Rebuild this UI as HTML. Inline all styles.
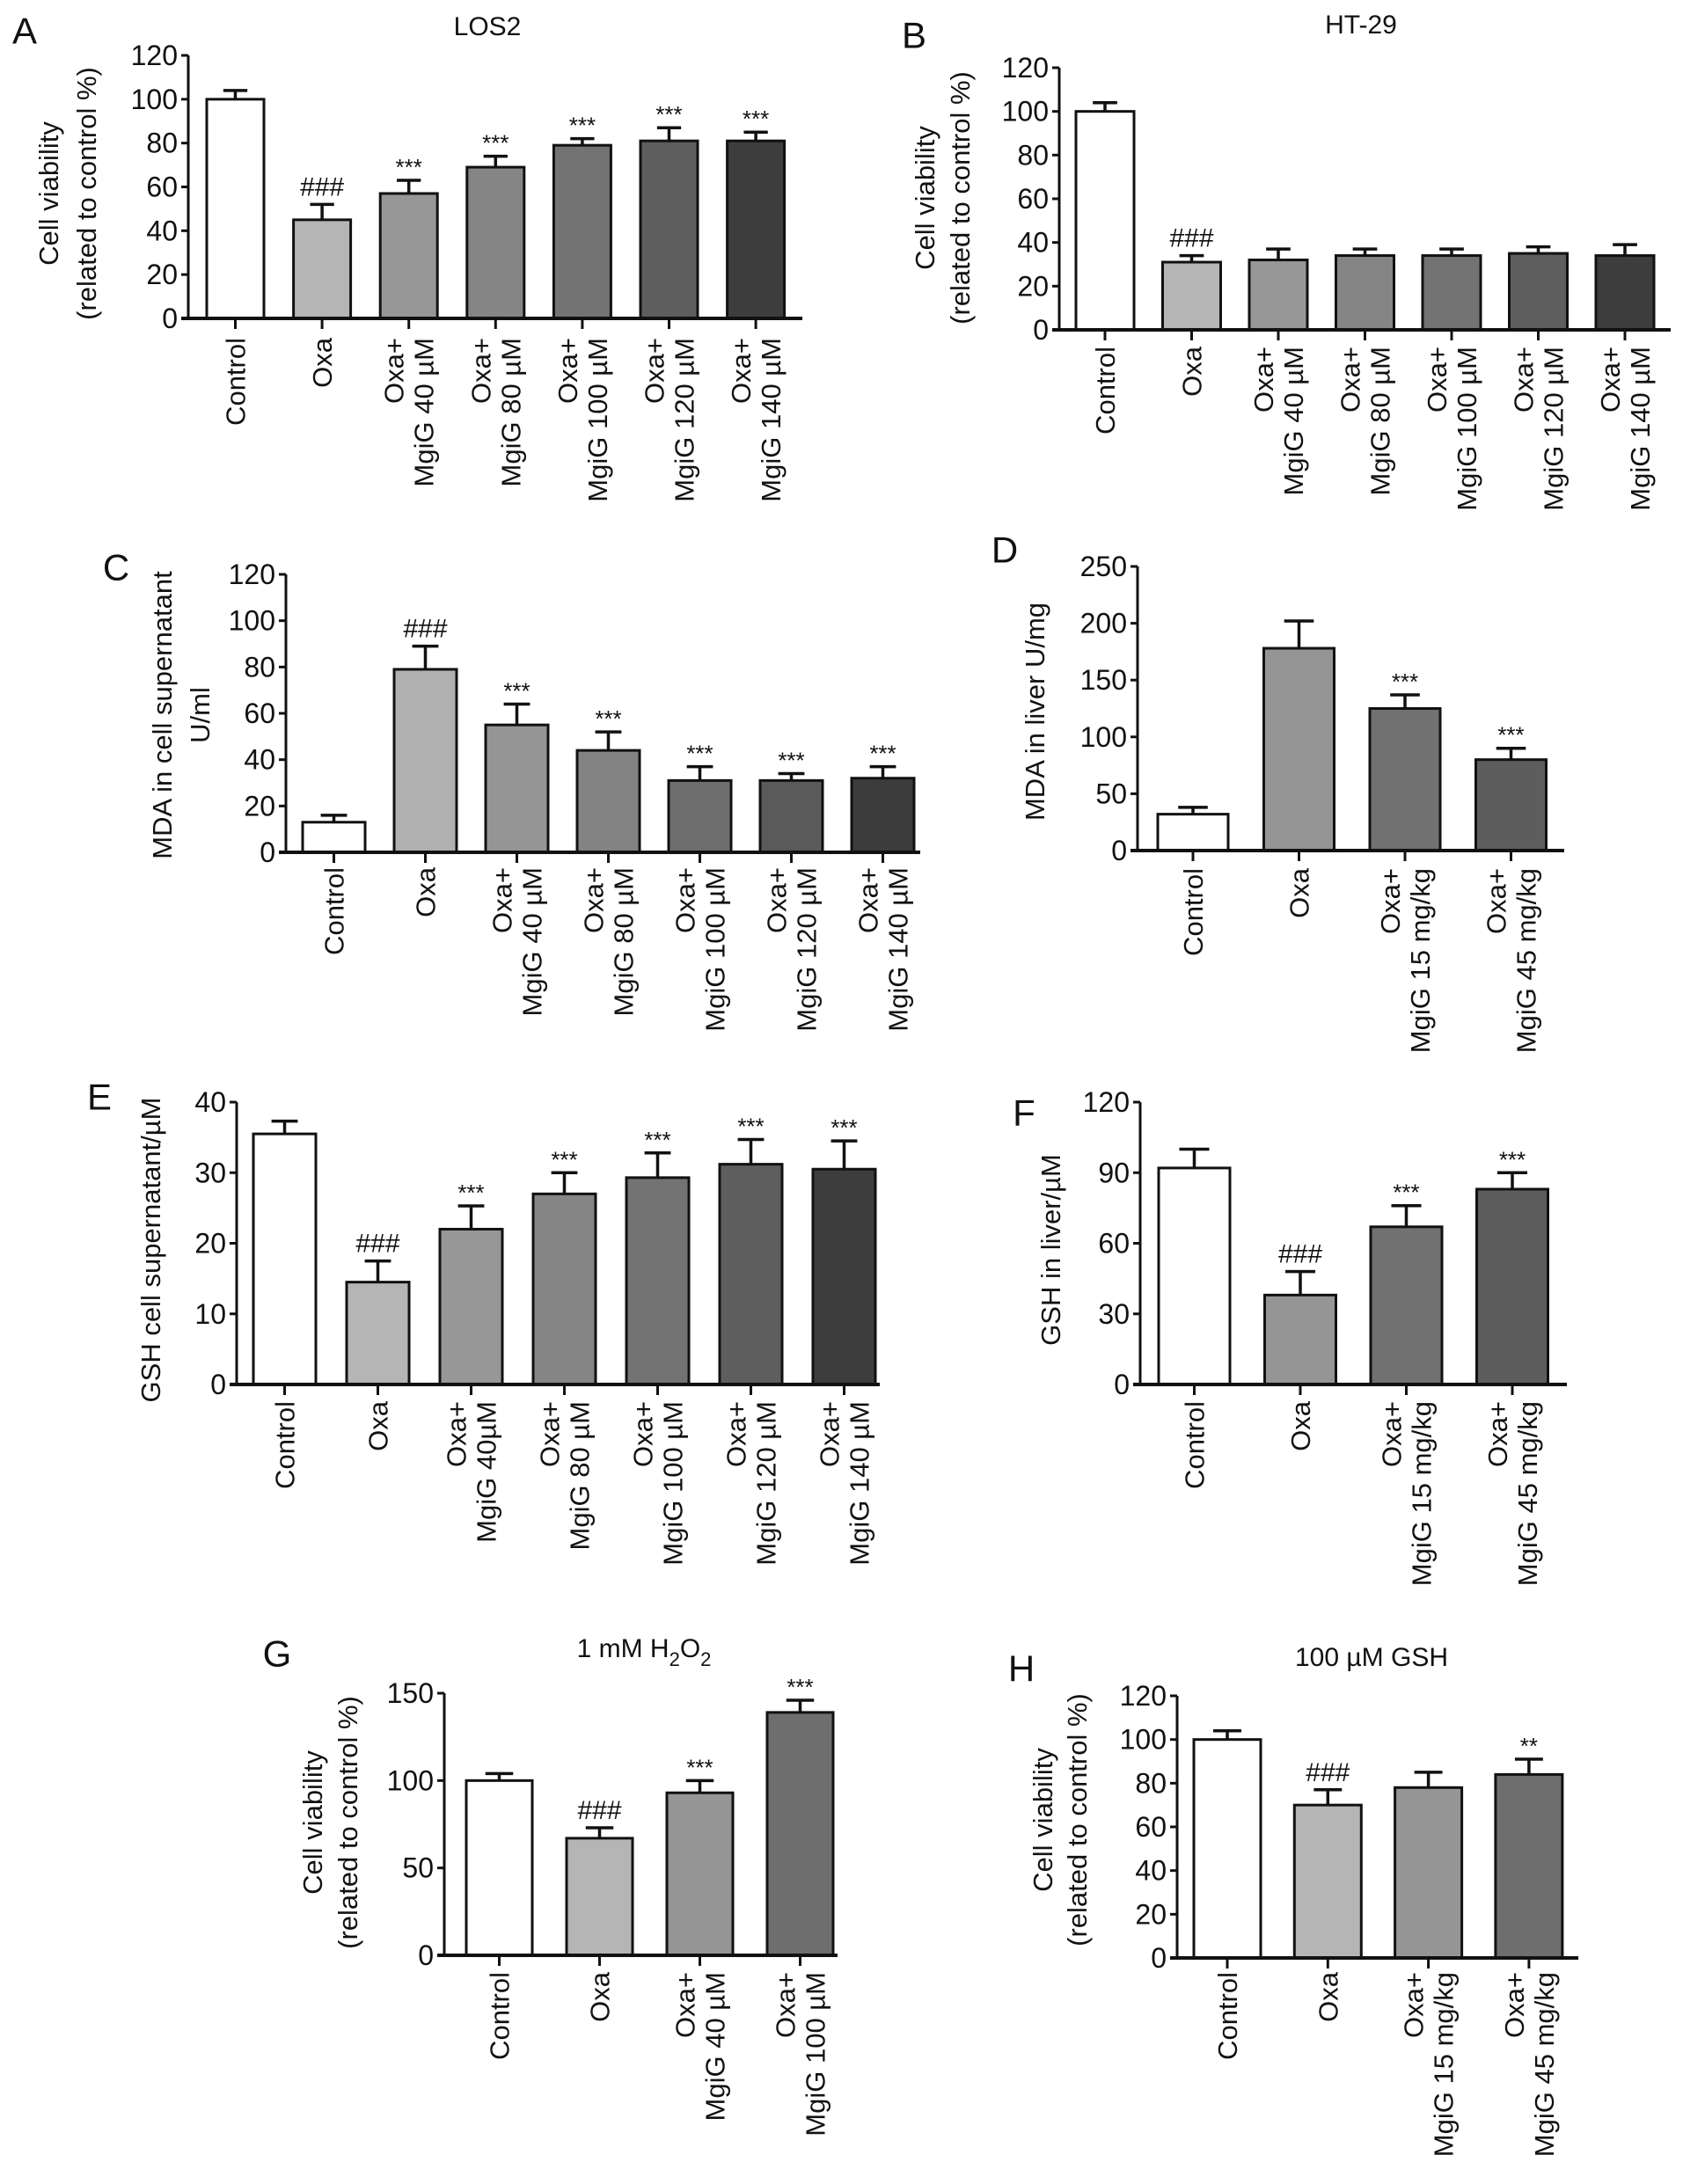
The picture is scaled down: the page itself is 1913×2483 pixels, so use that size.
<!DOCTYPE html>
<html><head><meta charset="utf-8"><title>Oxa MgiG panels</title>
<style>
html,body{margin:0;padding:0;background:#fff;}
svg{display:block;}
.tick{font-family:"Liberation Sans Narrow","Liberation Sans",sans-serif;font-size:32px;fill:#111;}
.cat{font-family:"Liberation Sans",sans-serif;font-size:31px;fill:#111;}
.ytl{font-family:"Liberation Sans",sans-serif;font-size:31px;fill:#111;}
.letter{font-family:"Liberation Sans",sans-serif;font-size:42px;fill:#111;}
.ttl{font-family:"Liberation Sans Narrow","Liberation Sans",sans-serif;font-size:30px;fill:#111;}
.note{font-family:"Liberation Sans Narrow","Liberation Sans",sans-serif;fill:#111;}
</style></head>
<body>
<svg id="fig" width="1913" height="2483" viewBox="0 0 1913 2483" xmlns="http://www.w3.org/2000/svg"></svg>
<script>
// ---- Data ----
const catsCell = ["Control","Oxa","Oxa+\nMgiG 40 µM","Oxa+\nMgiG 80 µM","Oxa+\nMgiG 100 µM","Oxa+\nMgiG 120 µM","Oxa+\nMgiG 140 µM"];
const catsE = ["Control","Oxa","Oxa+\nMgiG 40µM","Oxa+\nMgiG 80 µM","Oxa+\nMgiG 100 µM","Oxa+\nMgiG 120 µM","Oxa+\nMgiG 140 µM"];
const catsLiver = ["Control","Oxa","Oxa+\nMgiG 15 mg/kg","Oxa+\nMgiG 45 mg/kg"];
const catsG = ["Control","Oxa","Oxa+\nMgiG 40 µM","Oxa+\nMgiG 100 µM"];

const aValues = [100,45,57,69,79,81,81];
const aErrors = [4,7,6,5,3,6,4];
const aNotes = ["","###","***","***","***","***","***"];
const aTicks = [0,20,40,60,80,100,120];

const bValues = [100,31,32,34,34,35,34];
const bErrors = [4,3,5,3,3,3,5];
const bNotes = ["","###","","","","",""];
const bTicks = [0,20,40,60,80,100,120];

const cValues = [13,79,55,44,31,31,32];
const cErrors = [3,10,9,8,6,3,5];
const cNotes = ["","###","***","***","***","***","***"];
const cTicks = [0,20,40,60,80,100,120];

const dValues = [32,178,125,80];
const dErrors = [6,24,12,10];
const dNotes = ["","","***","***"];
const dTicks = [0,50,100,150,200,250];

const eValues = [35.5,14.5,22,27,29.3,31.2,30.5];
const eErrors = [1.8,3,3.3,3,3.5,3.5,4];
const eNotes = ["","###","***","***","***","***","***"];
const eTicks = [0,10,20,30,40];

const fValues = [92,38,67,83];
const fErrors = [8,10,9,7];
const fNotes = ["","###","***","***"];
const fTicks = [0,30,60,90,120];

const gValues = [100,67,93,139];
const gErrors = [4,6,7,7];
const gNotes = ["","###","***","***"];
const gTicks = [0,50,100,150];

const hValues = [100,70,78,84];
const hErrors = [4,7,7,7];
const hNotes = ["","###","","**"];
const hTicks = [0,20,40,60,80,100,120];

const greys7 = ["#ffffff","#b5b5b5","#979797","#858585","#737373","#5e5e5e","#3d3d3d"];
const greys4 = ["#ffffff","#959595","#717171","#5d5d5d"];
const greysGH = ["#ffffff","#b5b5b5","#959595","#6e6e6e"];

const NS = "http://www.w3.org/2000/svg";
const svg = document.getElementById("fig");
function mk(tag, attrs, parent){
  const e = document.createElementNS(NS, tag);
  for (const k in attrs) e.setAttribute(k, attrs[k]);
  (parent||svg).appendChild(e);
  return e;
}

function drawPanel(p){
  const g = mk("g", {});
  
  
  const yMax = p.ticks[p.ticks.length-1];
  const yScale = v => p.y0 - (v / yMax) * (p.y0 - p.yTop);
  const xCenter = i => p.bar0 + p.barW/2 + i * p.pitch;

  // letter
  const L = mk("text", {x:p.letterX, y:p.letterY, class:"letter", "text-anchor":"middle", "dominant-baseline":"central"}, g);
  L.textContent = p.id.toUpperCase();
  
  

  if (p.title){
    const T = mk("text", {x:p.titleX, y:p.titleY, class:"ttl", "text-anchor":"middle"}, g);
    
    
    p.title.forEach(part => {
      const ts = mk("tspan", {}, T);
      if (part.sub){ ts.setAttribute("dy","10"); ts.setAttribute("font-size","22"); }
      else if (part.back){ ts.setAttribute("dy","-10"); }
      ts.textContent = part.t;
    });
  }

  // y axis title
  p.yTitle.forEach((line, i) => {
    const t = mk("text", {class:"ytl", "text-anchor":"middle",
      transform:"translate(" + (p.yTitleX[i] + 11) + "," + p.yTitleY + ") rotate(-90)"}, g);
    
    
    t.textContent = line;
  });

  // bars
  p.values.forEach((v, i) => {
    const x = p.bar0 + i * p.pitch;
    const yv = yScale(v);
    const r = mk("rect", {x:x, y:yv, width:p.barW, height:p.y0 - yv, fill:p.colors[i], stroke:"#111", "stroke-width":3}, g);
    
    
    const cx = xCenter(i);
    const ye = yScale(v + p.errors[i]);
    const eb = mk("path", {d:"M"+cx+","+yv+"V"+ye+"M"+(cx-p.barW*0.21)+","+ye+"H"+(cx+p.barW*0.21), stroke:"#111", "stroke-width":3.5, fill:"none"}, g);
    
    
    if (p.notes[i]){
      const hash = p.notes[i].indexOf("#") >= 0;
      const n = mk("text", {x:cx, y:ye - (hash ? 10 : 6), class:"note", "text-anchor":"middle", "font-size": hash ? 30 : 26}, g);
      
      
      n.textContent = p.notes[i];
    }
    // x tick
    mk("line", {x1:cx, x2:cx, y1:p.y0, y2:p.y0+12, stroke:"#111", "stroke-width":3}, g);
    // category label
    const lines = p.cats[i].split("\n");
    lines.forEach((ln, j) => {
      const lx = cx + (j - (lines.length-1)/2) * 34 + 11;
      const t = mk("text", {class:"cat", "text-anchor":"end", transform:"translate(" + lx + "," + p.labelTop + ") rotate(-90)"}, g);
      
      
      t.textContent = ln;
    });
  });

  // axes
  const ya = mk("line", {x1:p.axisX, x2:p.axisX, y1:p.yTop, y2:p.y0+2, stroke:"#111", "stroke-width":3}, g);
  
  
  const xa = mk("line", {x1:p.axisX-8, x2:p.axisEnd, y1:p.y0, y2:p.y0, stroke:"#111", "stroke-width":4}, g);
  
  
  p.ticks.forEach(tv => {
    const y = yScale(tv);
    mk("line", {x1:p.axisX-8, x2:p.axisX, y1:y, y2:y, stroke:"#111", "stroke-width":3}, g);
    const t = mk("text", {x:p.axisX-12, y:y+11, class:"tick", "text-anchor":"end"}, g);
    
    
    t.textContent = tv;
  });
}

drawPanel({id:"a", cats:catsCell, values:aValues, errors:aErrors, notes:aNotes, ticks:aTicks, colors:greys7,
  axisX:214, y0:362, yTop:63, bar0:235, barW:65, pitch:98.6, axisEnd:912, labelTop:384,
  yTitle:["Cell viability","(related to control %)"], yTitleX:[55,98], yTitleY:220,
  letterX:28, letterY:35, title:[{t:"LOS2"}], titleX:554, titleY:40});

drawPanel({id:"b", cats:catsCell, values:bValues, errors:bErrors, notes:bNotes, ticks:bTicks, colors:greys7,
  axisX:1204, y0:375, yTop:77, bar0:1223, barW:66, pitch:98.5, axisEnd:1899, labelTop:394,
  yTitle:["Cell viability","(related to control %)"], yTitleX:[1051,1091], yTitleY:225,
  letterX:1039, letterY:40, title:[{t:"HT-29"}], titleX:1547, titleY:38});

drawPanel({id:"c", cats:catsCell, values:cValues, errors:cErrors, notes:cNotes, ticks:cTicks,
  colors:["#ffffff","#b0b0b0","#959595","#838383","#6e6e6e","#5a5a5a","#3c3c3c"],
  axisX:325, y0:969, yTop:653, bar0:344, barW:71, pitch:104, axisEnd:1046, labelTop:986,
  yTitle:["MDA in cell supernatant","U/ml"], yTitleX:[184,227], yTitleY:813,
  letterX:132, letterY:645});

drawPanel({id:"d", cats:catsLiver, values:dValues, errors:dErrors, notes:dNotes, ticks:dTicks, colors:greys4,
  axisX:1293, y0:967, yTop:644, bar0:1316, barW:80, pitch:120.5, axisEnd:1778, labelTop:987,
  yTitle:["MDA in liver U/mg"], yTitleX:[1176], yTitleY:809,
  letterX:1142, letterY:625});

drawPanel({id:"e", cats:catsE, values:eValues, errors:eErrors, notes:eNotes, ticks:eTicks, colors:greys7,
  axisX:269, y0:1574, yTop:1253, bar0:288, barW:71, pitch:106, axisEnd:1000, labelTop:1593,
  yTitle:["GSH cell supernatant/µM"], yTitleX:[171], yTitleY:1421,
  letterX:113, letterY:1247});

drawPanel({id:"f", cats:catsLiver, values:fValues, errors:fErrors, notes:fNotes, ticks:fTicks, colors:greys4,
  axisX:1296, y0:1574, yTop:1253, bar0:1317, barW:81, pitch:120.5, axisEnd:1781, labelTop:1593,
  yTitle:["GSH in liver/µM"], yTitleX:[1194], yTitleY:1421,
  letterX:1164, letterY:1265});

drawPanel({id:"g", cats:catsG, values:gValues, errors:gErrors, notes:gNotes, ticks:gTicks, colors:greysGH,
  axisX:505, y0:2223, yTop:1925, bar0:530, barW:75, pitch:114, axisEnd:952, labelTop:2242,
  yTitle:["Cell viability","(related to control %)"], yTitleX:[355,395], yTitleY:2072,
  letterX:315, letterY:1880,
  title:[{t:"1 mM H"},{t:"2",sub:true},{t:"O",back:true},{t:"2",sub:true}], titleX:732, titleY:1884});

drawPanel({id:"h", cats:catsLiver, values:hValues, errors:hErrors, notes:hNotes, ticks:hTicks, colors:greysGH,
  axisX:1338, y0:2226, yTop:1928, bar0:1357, barW:76, pitch:114.3, axisEnd:1794, labelTop:2242,
  yTitle:["Cell viability","(related to control %)"], yTitleX:[1185,1224], yTitleY:2069,
  letterX:1161, letterY:1897, title:[{t:"100 µM GSH"}], titleX:1559, titleY:1894});
</script>
</body></html>
